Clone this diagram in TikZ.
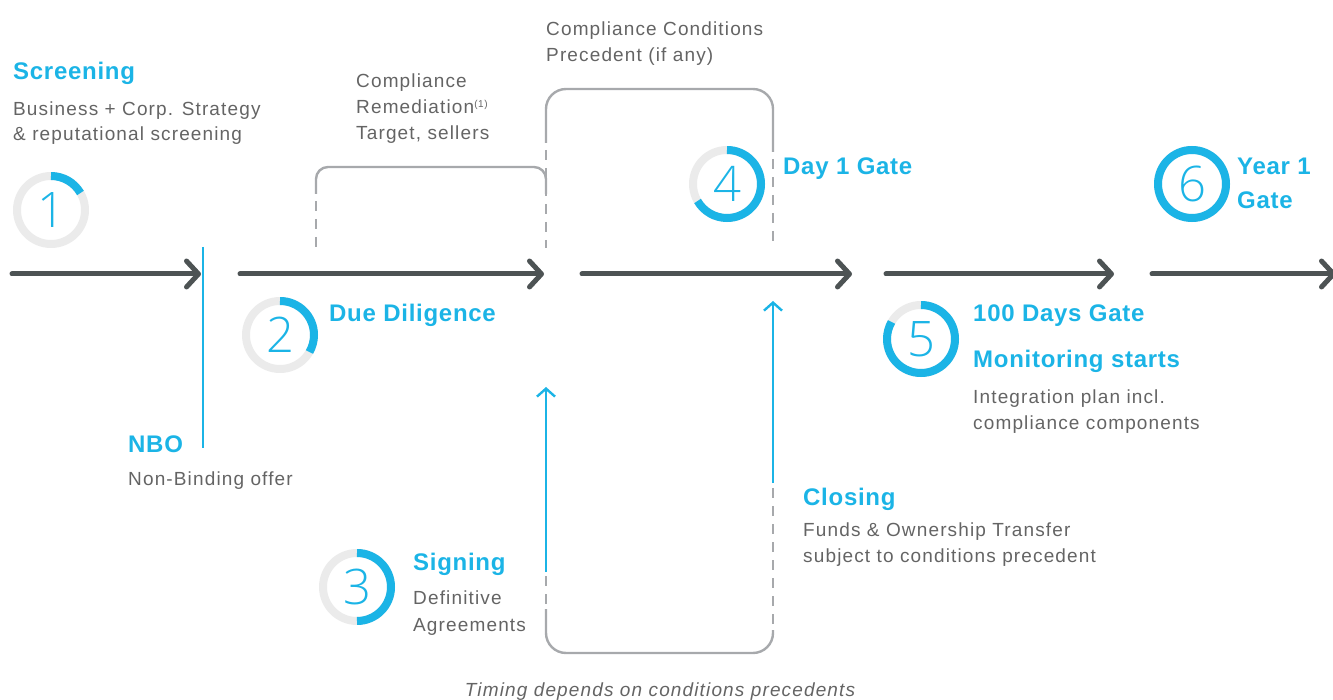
\documentclass[tikz,border=0pt]{standalone}
\usepackage{fontspec}
\setmainfont{Liberation Sans}
\usetikzlibrary{arrows.meta}
\newfontfamily\txtfont[LetterSpace=6]{Liberation Sans}
\newfontfamily\hdfont[LetterSpace=3]{Liberation Sans}
\IfFontExistsTF{Open Sans Light}{\newfontfamily\digfont{Open Sans Light}}{%
  \IfFontExistsTF{Fira Sans Light}{\newfontfamily\digfont{Fira Sans Light}}{%
    \IfFontExistsTF{Lato Light}{\newfontfamily\digfont{Lato Light}}{%
      \newfontfamily\digfont{Liberation Sans}}}}
\definecolor{cblue}{RGB}{27,180,230}
\definecolor{ctext}{RGB}{100,100,100}
\definecolor{cdark}{RGB}{77,83,84}
\definecolor{cbrk}{RGB}{167,169,172}
\definecolor{cring}{RGB}{235,235,235}
\tikzset{
  tl/.style={cdark, line width=5pt, line cap=round, -{Straight Barb[length=12pt,width=26pt,round]}},
  barr/.style={cblue, line width=2.4pt, -{Straight Barb[length=8pt,width=18pt]}},
  brk/.style={cbrk, line width=2.4pt},
  brkd/.style={brk, dash pattern=on 10pt off 8pt},
  ring/.style={circle, draw=cring, line width=8pt, minimum size=68pt, inner sep=0pt,
    text=cblue, font=\digfont\fontsize{49}{49}\selectfont},
  prog/.style={cblue, line width=8pt},
  hd/.style={anchor=base west, inner sep=0pt, text=cblue, font=\hdfont\bfseries\fontsize{24}{24}\selectfont},
  tx/.style={anchor=base west, inner sep=0pt, text=ctext, font=\txtfont\fontsize{19}{26}\selectfont},
}
\begin{document}
\begin{tikzpicture}[x=1pt,y=-1pt]
\useasboundingbox (0,0) rectangle (1333,700);
\clip (0,0) rectangle (1333,700);
% timeline
\coordinate (a1s) at (12,274);  \coordinate (a1e) at (201,274);
\coordinate (a2s) at (240,274); \coordinate (a2e) at (544,274);
\coordinate (a3s) at (582,274); \coordinate (a3e) at (852,274);
\coordinate (a4s) at (886,274); \coordinate (a4e) at (1114,274);
\coordinate (a5s) at (1152,274);\coordinate (a5e) at (1336,274);
\draw[tl] (a1s) -- (a1e);
\draw[tl] (a2s) -- (a2e);
\draw[tl] (a3s) -- (a3e);
\draw[tl] (a4s) -- (a4e);
\draw[tl] (a5s) -- (a5e);
% NBO line
\coordinate (nbo1) at (203,247); \coordinate (nbo2) at (203,448);
\draw[cblue, line width=2.6pt] (nbo1) -- (nbo2);
% bracket 1
\draw[brk, rounded corners=12pt] (316,194) -- (316,167) -- (546,167) -- (546,194);
\draw[brkd] (316,201) -- (316,248);
% bracket 2
\draw[brk, rounded corners=20pt] (546,143) -- (546,89) -- (773,89) -- (773,152);
\draw[brkd] (546,150) -- (546,248);
\draw[brkd] (773,159) -- (773,248);
% bottom bracket
\draw[brk, rounded corners=20pt] (546,609) -- (546,653) -- (773,653) -- (773,630);
\draw[brkd] (546,576) -- (546,604);
\draw[brkd] (773,488) -- (773,624);
% blue arrows
\coordinate (s1) at (546,572); \coordinate (s2) at (546,387);
\coordinate (c1a) at (773,483); \coordinate (c2a) at (773,301);
\draw[barr] (s1) -- (s2);
\draw[barr] (c1a) -- (c2a);
% rings
\node[ring] (r1) at (51,210) {1};
\node[ring] (r2) at (280,335) {2};
\node[ring] (r3) at (357,587) {3};
\node[ring] (r4) at (727,184) {4};
\node[ring] (r5) at (921,339) {5};
\node[ring] (r6) at (1192,184) {6};
\draw[prog] ([shift={(-90:34)}]r1.center) arc[start angle=-90, end angle=-30, radius=34];
\draw[prog] ([shift={(-90:34)}]r2.center) arc[start angle=-90, end angle=30, radius=34];
\draw[prog] ([shift={(-90:34)}]r3.center) arc[start angle=-90, end angle=90, radius=34];
\draw[prog] ([shift={(-90:34)}]r4.center) arc[start angle=-90, end angle=150, radius=34];
\draw[prog] ([shift={(-90:34)}]r5.center) arc[start angle=-90, end angle=210, radius=34];
\draw[prog] (r6.center) circle[radius=34];
% texts
\node[hd] (h1) at (13,80) {Screening};
\node[tx] (t1a) at (13,116) {Business + Corp. Strategy};
\node[tx] (t1b) at (13,141) {\& reputational screening};
\node[tx] (cr1) at (356,88) {Compliance};
\node[tx] (cr2) at (356,114) {Remediation\textsuperscript{\fontsize{10}{10}\selectfont(1)}};
\node[tx] (cr3) at (356,140) {Target, sellers};
\node[tx] (cc1) at (546,36) {Compliance Conditions};
\node[tx] (cc2) at (546,62) {Precedent (if any)};
\node[hd] (h4) at (783,175) {Day 1 Gate};
\node[hd] (h6a) at (1237,175) {Year 1};
\node[hd] (h6b) at (1237,209) {Gate};
\node[hd] (h2) at (329,322) {Due Diligence};
\node[hd] (h5a) at (973,322) {100 Days Gate};
\node[hd] (h5b) at (973,367) {Monitoring starts};
\node[tx] (t5a) at (973,403) {Integration plan incl.};
\node[tx] (t5b) at (973,429) {compliance components};
\node[hd] (hn) at (128,452) {NBO};
\node[tx] (tn) at (128,485) {Non-Binding offer};
\node[hd] (hc) at (803,505) {Closing};
\node[tx] (tc1) at (803,536) {Funds \& Ownership Transfer};
\node[tx] (tc2) at (803,562) {subject to conditions precedent};
\node[hd] (h3) at (413,570) {Signing};
\node[tx] (t3a) at (413,604) {Definitive};
\node[tx] (t3b) at (413,631) {Agreements};
\node[tx, anchor=base, font=\txtfont\itshape\fontsize{19}{19}\selectfont] (tim) at (660,696) {Timing depends on conditions precedents};
\end{tikzpicture}
\end{document}
